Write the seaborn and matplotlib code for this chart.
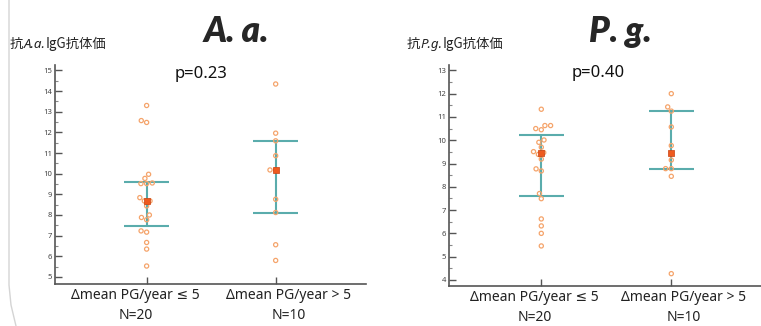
import matplotlib
matplotlib.use("Agg")
import matplotlib.pyplot as plt
import matplotlib.transforms as mtransforms
import seaborn as sns
import pandas as pd
import numpy as np
from matplotlib.lines import Line2D
from matplotlib.ticker import MultipleLocator

# ---------------- data ----------------
categories = ["Δmean PG/year ≤ 5\nN=20", "Δmean PG/year > 5\nN=10"]

aa_low = [13.30, 12.57, 12.48, 9.97, 9.77, 9.55, 9.52, 9.52, 8.84, 8.68,
          8.68, 8.44, 8.00, 7.88, 7.77, 7.23, 7.17, 6.67, 6.35, 5.53]
aa_high = [14.34, 11.96, 11.59, 10.87, 10.18, 10.18, 8.76, 8.12, 6.56, 5.80]
pg_low = [11.33, 10.63, 10.63, 10.50, 10.45, 10.01, 9.91, 9.70, 9.51, 9.47,
          9.39, 9.19, 8.77, 8.68, 7.71, 7.49, 6.62, 6.32, 6.00, 5.46]
pg_high = [12.00, 11.43, 11.25, 10.57, 9.77, 9.15, 8.78, 8.78, 8.45, 4.27]

aa_median = [8.68, 10.18]
aa_q1 = [7.49, 8.12]
aa_q3 = [9.61, 11.59]
pg_median = [9.47, 9.45]
pg_q1 = [7.61, 8.78]
pg_q3 = [10.24, 11.25]

aa_p = "p=0.23"
pg_p = "p=0.40"

# ---------------- style ----------------
sns.set_theme(style="white")
plt.rcParams['font.family'] = ['Noto Sans', 'Noto Sans CJK JP', 'DejaVu Sans']

TEAL = "#5aacac"
ORANGE = "#f5a46b"
RED = "#ee5a1e"
AXC = "#555555"

fig = plt.figure(figsize=(7.61, 3.26), dpi=100)
W, H = 761, 326

def frac_box(x0, x1, ytop, ybot):
    return [x0 / W, 1 - ybot / H, (x1 - x0) / W, (ybot - ytop) / H]

ax1 = fig.add_axes(frac_box(55, 366, 65, 284))
ax2 = fig.add_axes(frac_box(449, 761, 65, 286))


def panel(ax, low, high, med, q1, q3, ylim, xlim, yticks, label_shift):
    df = pd.DataFrame({
        "group": [categories[0]] * len(low) + [categories[1]] * len(high),
        "value": list(low) + list(high),
    })
    sns.swarmplot(data=df, x="group", y="value", order=categories, ax=ax,
                  size=3.0, color=ORANGE, zorder=3)
    for c in ax.collections:
        c.set_facecolor("none")
        c.set_edgecolor(ORANGE)
        c.set_linewidth(0.9)
    xs = np.arange(len(categories))
    hw = 0.175
    ax.hlines(q3, xs - hw, xs + hw, color=TEAL, lw=1.5, zorder=2)
    ax.hlines(q1, xs - hw, xs + hw, color=TEAL, lw=1.5, zorder=2)
    ax.vlines(xs, q1, q3, color=TEAL, lw=1.5, zorder=2)
    ax.scatter(xs, med, marker="s", s=22, color=RED, edgecolor="#c84010",
               linewidth=0.5, zorder=4)
    ax.set_ylim(*ylim)
    ax.set_xlim(*xlim)
    ax.set_yticks(yticks)
    ax.yaxis.set_minor_locator(MultipleLocator(0.5))
    ax.set_xlabel("")
    ax.set_ylabel("")
    for s in ["top", "right"]:
        ax.spines[s].set_visible(False)
    for s in ["left", "bottom"]:
        ax.spines[s].set_color(AXC)
        ax.spines[s].set_linewidth(1.2)
    ax.tick_params(axis="y", which="major", direction="in", length=5, width=1,
                   color=AXC, labelsize=5.5, labelcolor="#444444", pad=2, left=True)
    ax.tick_params(axis="y", which="minor", direction="in", length=2.5, width=0.8,
                   color="#888888", left=True)
    ax.tick_params(axis="x", which="major", direction="in", length=5, width=1,
                   color=AXC, labelsize=10, labelcolor="#222222", pad=3, bottom=True)
    for lab, dx in zip(ax.get_xticklabels(), label_shift):
        lab.set_linespacing(1.4)
        lab.set_family(['Noto Sans', 'DejaVu Sans'])
        off = mtransforms.ScaledTranslation(dx / 100, 0, fig.dpi_scale_trans)
        lab.set_transform(lab.get_transform() + off)
    ax.set_facecolor("white")


panel(ax1, aa_low, aa_high, aa_median, aa_q1, aa_q3,
      (4.66, 15.26), (-0.71, 1.70), range(5, 16), (-11, 13))
panel(ax2, pg_low, pg_high, pg_median, pg_q1, pg_q3,
      (3.74, 13.23), (-0.71, 1.69), range(4, 14), (-7, 12))

# titles
fig.text(236 / W, 1 - 31 / H, "A. a.", ha="center", va="center", fontsize=25,
         fontweight="heavy", fontstyle="italic", family=["Lato", "DejaVu Sans"])
fig.text(620 / W, 1 - 31 / H, "P. g.", ha="center", va="center", fontsize=25,
         fontweight="heavy", fontstyle="italic", family=["Lato", "DejaVu Sans"])

# p values
fig.text(201 / W, 1 - 74 / H, aa_p, ha="center", va="center", fontsize=12,
         color="#111111")
fig.text(598 / W, 1 - 73 / H, pg_p, ha="center", va="center", fontsize=12,
         color="#111111")

# y labels with italic parts
def ylabel_pieces(x, y, italic_part):
    fam = ['Noto Sans CJK JP', 'DejaVu Sans']
    t1 = fig.text(x / W, 1 - y / H, "抗", ha="left", va="center", fontsize=9.6,
                  family=fam, color="#222222")
    a2 = fig.axes[0].annotate(italic_part, xy=(1, 0), xycoords=t1, ha="left",
                              va="bottom", fontsize=9.6,
                              family=['Noto Sans', 'DejaVu Sans'],
                              fontstyle="italic", color="#222222",
                              annotation_clip=False)
    fig.axes[0].annotate("IgG抗体価", xy=(1, 0), xycoords=a2, ha="left",
                         va="bottom", fontsize=9.6, family=fam, color="#222222",
                         annotation_clip=False)

ylabel_pieces(10, 44, "A.a.")
ylabel_pieces(407, 44, "P.g.")

# slide frame border
fig.add_artist(Line2D([9 / W, 9 / W, 11 / W, 16 / W],
                      [1.0, 1 - 285 / H, 1 - 305 / H, 0.0],
                      transform=fig.transFigure, color="#d4d4d4", lw=1))

fig.savefig("out.png", dpi=100, facecolor="white")
